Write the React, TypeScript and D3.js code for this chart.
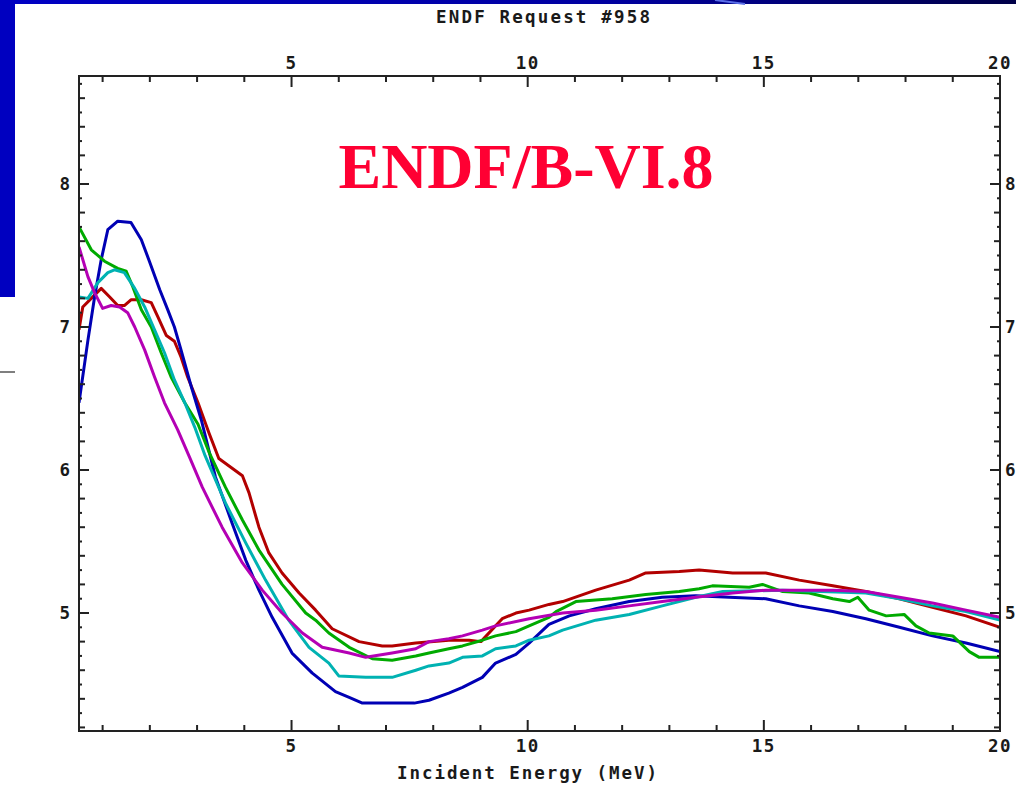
import React from "react";
import * as d3 from "d3";

// ---- Data ----
const blueE = [0.5, 0.69, 0.83, 0.97, 1.11, 1.32, 1.6, 1.82, 1.99, 2.21, 2.38, 2.52, 2.66, 2.88, 3.09, 3.39, 3.74, 4.03, 4.31, 4.59, 5.01, 5.44, 5.93, 6.22, 6.5, 7.6, 7.91, 8.33, 8.62, 9.04, 9.32, 9.75, 10.03, 10.45, 10.88, 11.44, 12.15, 12.85, 13.56, 14.27, 15.04, 15.75, 16.46, 17.16, 17.87, 18.57, 19.28, 20];
const blueV = [6.47, 6.91, 7.21, 7.47, 7.68, 7.74, 7.73, 7.61, 7.46, 7.26, 7.12, 7.0, 6.84, 6.58, 6.35, 5.95, 5.63, 5.37, 5.16, 4.97, 4.72, 4.58, 4.45, 4.41, 4.37, 4.37, 4.39, 4.44, 4.48, 4.55, 4.65, 4.71, 4.79, 4.92, 4.98, 5.03, 5.08, 5.11, 5.12, 5.11, 5.1, 5.05, 5.01, 4.96, 4.9, 4.84, 4.79, 4.73];

const greenE = [0.5, 0.76, 1.04, 1.32, 1.5, 1.64, 1.82, 2.03, 2.24, 2.45, 2.74, 3.02, 3.26, 3.6, 3.96, 4.31, 4.8, 5.3, 5.51, 5.79, 6.22, 6.71, 7.13, 7.63, 7.91, 8.33, 8.62, 9.04, 9.32, 9.75, 10.03, 10.45, 10.6, 11.02, 11.79, 12.5, 13.21, 13.63, 13.91, 14.69, 14.97, 15.4, 15.96, 16.46, 16.81, 16.99, 17.23, 17.59, 17.97, 18.22, 18.5, 19.0, 19.35, 19.56, 20];
const greenV = [7.7, 7.54, 7.46, 7.41, 7.39, 7.28, 7.12, 7.0, 6.82, 6.65, 6.47, 6.32, 6.12, 5.88, 5.65, 5.44, 5.2, 5.0, 4.95, 4.86, 4.76, 4.68, 4.67, 4.7, 4.72, 4.75, 4.77, 4.81, 4.84, 4.87, 4.91, 4.97, 5.01, 5.08, 5.1, 5.13, 5.15, 5.17, 5.19, 5.18, 5.2, 5.15, 5.14, 5.1, 5.08, 5.11, 5.02, 4.98, 4.99, 4.91, 4.86, 4.84, 4.73, 4.69, 4.69];

const cyanE = [0.5, 0.69, 0.9, 1.11, 1.25, 1.46, 1.68, 1.89, 2.1, 2.31, 2.52, 2.74, 2.95, 3.17, 3.6, 4.03, 4.45, 4.94, 5.37, 5.79, 6.0, 6.57, 7.13, 7.63, 7.91, 8.33, 8.62, 9.04, 9.32, 9.75, 10.03, 10.45, 10.74, 11.44, 12.15, 12.85, 13.56, 14.13, 15.4, 17.16, 17.87, 18.57, 19.28, 20];
const cyanV = [7.21, 7.2, 7.31, 7.38, 7.4, 7.38, 7.27, 7.14, 6.98, 6.82, 6.63, 6.47, 6.3, 6.1, 5.77, 5.49, 5.23, 4.95, 4.76, 4.65, 4.56, 4.55, 4.55, 4.6, 4.63, 4.65, 4.69, 4.7, 4.75, 4.77, 4.81, 4.84, 4.88, 4.95, 4.99, 5.05, 5.11, 5.15, 5.16, 5.14, 5.1, 5.05, 5.01, 4.95];

const magentaE = [0.5, 0.69, 0.83, 1.0, 1.18, 1.36, 1.53, 1.68, 1.89, 2.1, 2.31, 2.59, 2.84, 3.11, 3.53, 3.96, 4.38, 4.8, 5.23, 5.65, 6.22, 6.57, 7.13, 7.63, 7.91, 8.33, 8.62, 9.04, 9.32, 10.03, 10.74, 11.44, 12.15, 12.85, 13.56, 14.34, 15.04, 16.46, 17.16, 17.87, 18.57, 19.28, 20];
const magentaV = [7.56, 7.35, 7.24, 7.13, 7.15, 7.14, 7.1, 7.0, 6.84, 6.65, 6.47, 6.28, 6.09, 5.88, 5.6, 5.35, 5.16, 5.0, 4.86, 4.76, 4.72, 4.69, 4.72, 4.75, 4.8, 4.82, 4.84, 4.88, 4.91, 4.96, 5.0, 5.02, 5.05, 5.08, 5.11, 5.14, 5.16, 5.16, 5.15, 5.11, 5.07, 5.02, 4.97];

const redE = [0.5, 0.58, 0.76, 0.97, 1.15, 1.32, 1.46, 1.6, 1.82, 2.03, 2.17, 2.35, 2.52, 2.66, 2.8, 3.02, 3.25, 3.46, 3.67, 3.96, 4.1, 4.31, 4.52, 4.8, 5.16, 5.51, 5.86, 6.43, 6.92, 7.13, 7.63, 8.33, 8.76, 9.01, 9.46, 9.75, 10.03, 10.45, 10.74, 11.44, 12.15, 12.5, 13.21, 13.63, 14.34, 15.04, 15.75, 16.46, 17.16, 17.87, 18.57, 19.28, 20];
const redV = [6.98, 7.14, 7.2, 7.27, 7.21, 7.15, 7.15, 7.19, 7.19, 7.17, 7.07, 6.94, 6.9, 6.79, 6.65, 6.47, 6.26, 6.08, 6.03, 5.96, 5.84, 5.6, 5.42, 5.28, 5.14, 5.02, 4.89, 4.8, 4.77, 4.77, 4.79, 4.81, 4.81, 4.8, 4.96, 5.0, 5.02, 5.06, 5.08, 5.16, 5.23, 5.28, 5.29, 5.3, 5.28, 5.28, 5.23, 5.19, 5.15, 5.1, 5.04, 4.98, 4.9];

const xTickLabels = [5, 10, 15, 20];
const yTickLabels = [5, 6, 7, 8];
const chartTitle = "ENDF Request #958";
const xAxisTitle = "Incident Energy (MeV)";
const overlayLabel = "ENDF/B-VI.8";

const series = [
  { name: "red", e: redE, v: redV, color: "#b20000" },
  { name: "blue", e: blueE, v: blueV, color: "#0000b4" },
  { name: "green", e: greenE, v: greenV, color: "#00aa00" },
  { name: "cyan", e: cyanE, v: cyanV, color: "#00b2b2" },
  { name: "magenta", e: magentaE, v: magentaV, color: "#b400b4" },
];

const W = 1016;
const H = 785;
const L = 79, R = 1000, T = 76, B = 731;
const mono = "'DejaVu Sans Mono', 'Liberation Mono', monospace";

export default function App() {
  const x = d3.scaleLinear().domain([0.5, 20]).range([L, R]);
  const y = d3.scaleLinear().domain([4.175, 8.755]).range([B, T]);
  const line = d3
    .line<[number, number]>()
    .x((d) => x(d[0]))
    .y((d) => y(d[1]));

  const xMinor = d3.range(1, 21, 1);
  const yMinor = d3.range(42, 88, 1).map((d) => d / 10);

  const textColor = "#1a1a1a";
  const fs = 17.5;

  return (
    <svg
      width={W}
      height={H}
      style={{ position: "absolute", left: 0, top: 0, background: "#ffffff" }}
    >
      <defs>
        <linearGradient id="topbar" x1="0" x2="1" y1="0" y2="0">
          <stop offset="0" stopColor="#0000c4" />
          <stop offset="0.6" stopColor="#0000a0" />
          <stop offset="1" stopColor="#000048" />
        </linearGradient>
        <clipPath id="plotclip">
          <rect x={L} y={T} width={R - L} height={B - T} />
        </clipPath>
      </defs>
      <rect x={0} y={0} width={W} height={H} fill="#ffffff" />
      {/* slide decorations */}
      <rect x={0} y={0} width={W} height={4} fill="url(#topbar)" />
      <line x1={715} y1={0} x2={745} y2={4} stroke="#5a6ee8" strokeWidth={2} />
      <rect x={0} y={0} width={15} height={297} fill="#0000c0" />
      <line x1={0} y1={372} x2={15} y2={372} stroke="#555" strokeWidth={1.5} />

      {/* title */}
      <text
        x={543}
        y={23}
        textAnchor="middle"
        fontFamily={mono}
        fontWeight="bold"
        fontSize={fs}
        fill={textColor}
        textLength={214}
        lengthAdjust="spacing"
      >
        {chartTitle}
      </text>

      {/* curves */}
      <g clipPath="url(#plotclip)">
        {series.map((s) => (
          <path
            key={s.name}
            d={line(s.e.map((e, i) => [e, s.v[i]] as [number, number])) || ""}
            fill="none"
            stroke={s.color}
            strokeWidth={3}
            strokeLinejoin="round"
          />
        ))}
      </g>

      {/* frame */}
      <rect x={L} y={T} width={R - L} height={B - T} fill="none" stroke="#222" strokeWidth={2} />

      {/* x ticks (top and bottom) */}
      {xMinor.map((t) => {
        const major = t % 5 === 0;
        const len = major ? 11 : 6;
        return (
          <g key={"xt" + t}>
            <line x1={x(t)} x2={x(t)} y1={B} y2={B - len} stroke="#222" strokeWidth={2} />
            <line x1={x(t)} x2={x(t)} y1={T} y2={T + len} stroke="#222" strokeWidth={2} />
          </g>
        );
      })}
      {/* y ticks (left and right) */}
      {yMinor.map((t) => {
        const k = Math.round(t * 10);
        const len = k % 10 === 0 ? 10 : k % 2 === 0 ? 6 : 3;
        return (
          <g key={"yt" + k}>
            <line x1={L} x2={L + len} y1={y(t)} y2={y(t)} stroke="#222" strokeWidth={2} />
            <line x1={R} x2={R - len} y1={y(t)} y2={y(t)} stroke="#222" strokeWidth={2} />
          </g>
        );
      })}

      {/* x tick labels */}
      {xTickLabels.map((t) => (
        <g key={"xl" + t}>
          <text x={x(t)} y={69} textAnchor="middle" fontFamily={mono} fontWeight="bold" fontSize={fs} fill={textColor} letterSpacing={1.5}>
            {t}
          </text>
          <text x={x(t)} y={752} textAnchor="middle" fontFamily={mono} fontWeight="bold" fontSize={fs} fill={textColor} letterSpacing={1.5}>
            {t}
          </text>
        </g>
      ))}
      {/* y tick labels */}
      {yTickLabels.map((t) => (
        <g key={"yl" + t}>
          <text x={70} y={y(t) + 6} textAnchor="end" fontFamily={mono} fontWeight="bold" fontSize={fs} fill={textColor}>
            {t}
          </text>
          <text x={1005} y={y(t) + 6} textAnchor="start" fontFamily={mono} fontWeight="bold" fontSize={fs} fill={textColor}>
            {t}
          </text>
        </g>
      ))}

      {/* x axis title */}
      <text
        x={527}
        y={779}
        textAnchor="middle"
        fontFamily={mono}
        fontWeight="bold"
        fontSize={fs}
        fill={textColor}
        textLength={260}
        lengthAdjust="spacing"
      >
        {xAxisTitle}
      </text>

      {/* overlay label */}
      <text
        x={526}
        y={188}
        textAnchor="middle"
        fontFamily="'Liberation Serif', 'Times New Roman', serif"
        fontWeight="bold"
        fontSize={64}
        fill="#ff0033"
      >
        {overlayLabel}
      </text>
    </svg>
  );
}
